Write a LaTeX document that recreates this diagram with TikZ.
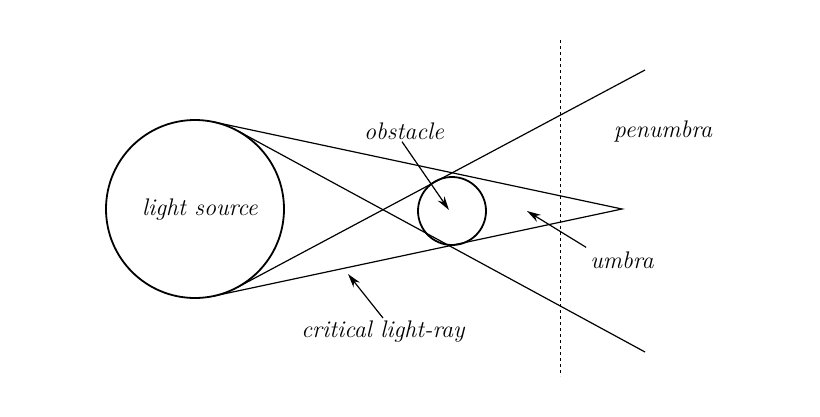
\documentclass[tikz,border=0pt]{standalone}
\usetikzlibrary{arrows.meta}
\begin{document}
\begin{tikzpicture}[x=1pt,y=-1pt,
  lbl/.style={font=\fontsize{24}{28}\selectfont\itshape, inner sep=1pt},
  ray/.style={line width=1.2pt},
  pt/.style={-{Stealth[length=14pt,width=8pt]}, line width=1.2pt}]
\useasboundingbox (0,0) rectangle (820,416);
\node[circle, draw, line width=1.8pt, minimum size=178pt, inner sep=0] (src) at (195,209) {};
\node[circle, draw, line width=1.8pt, minimum size=68pt, inner sep=0] (obs) at (452,211) {};
\node[lbl] (srclbl) at (200,210) {light source};
\coordinate (t1) at (214,122);
\coordinate (t2) at (214,296);
\coordinate (i1) at (238,131);
\coordinate (i2) at (238,287);
\coordinate (apex) at (622,209);
\coordinate (e1) at (645,70);
\coordinate (e2) at (645,352);
\draw[ray] (t1) -- (apex) -- (t2);
\draw[ray] (i1) -- (e2);
\draw[ray] (i2) -- (e1);
\coordinate (d1) at (560,40);
\coordinate (d2) at (560,376);
\draw[dashed, line width=1pt] (d1) -- (d2);
\node[lbl] (obl) at (404,131) {obstacle};
\node[lbl] (pen) at (663,131) {penumbra};
\node[lbl] (umb) at (622,260) {umbra};
\node[lbl] (crit) at (383,332) {critical light-ray};
\coordinate (oa) at (449,210);
\coordinate (ua) at (527,211);
\coordinate (ca) at (348,274);
\draw[pt] (obl.south) ++(-2,1) -- (oa);
\draw[pt] (umb.north west) ++(-3,-3) -- (ua);
\draw[pt] (crit.north) ++(0,-2) -- (ca);
\end{tikzpicture}
\end{document}
